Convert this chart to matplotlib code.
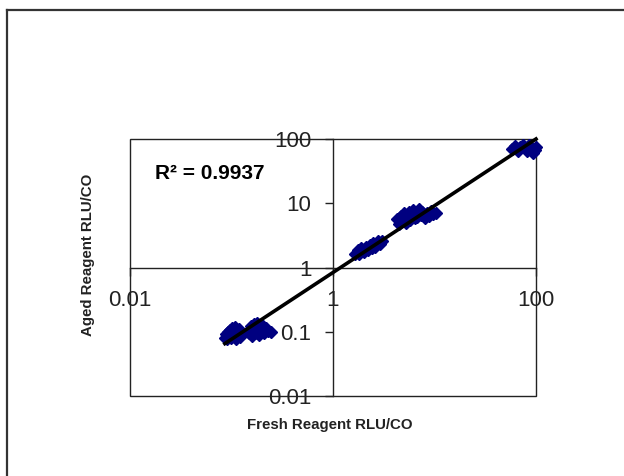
import numpy as np
import matplotlib.pyplot as plt
from matplotlib.lines import Line2D
from matplotlib.patches import Rectangle

plt.rcParams.update({"font.family": "Liberation Sans"})

# fresh vs aged reagent RLU/CO (four groups)
fresh1 = [0.086, 0.089, 0.091, 0.093, 0.095, 0.097, 0.099, 0.101, 0.103, 0.106, 0.108,
          0.111, 0.113, 0.116, 0.119, 0.122, 0.15, 0.155, 0.16, 0.165, 0.17, 0.175,
          0.18, 0.185, 0.19, 0.195, 0.2, 0.21, 0.22, 0.23, 0.245]
aged1 = [0.080, 0.092, 0.076, 0.098, 0.084, 0.108, 0.079, 0.115, 0.092, 0.086, 0.120,
         0.078, 0.102, 0.088, 0.110, 0.083, 0.097, 0.124, 0.087, 0.132, 0.094, 0.112,
         0.136, 0.090, 0.120, 0.100, 0.128, 0.095, 0.114, 0.102, 0.098]
fresh2 = [1.65, 1.75, 1.8, 1.9, 2.0, 2.1, 2.2, 2.3, 2.4, 2.5, 2.6, 2.75, 2.9, 3.05]
aged2 = [1.60, 1.90, 1.65, 2.00, 1.75, 2.10, 1.85, 2.20, 2.0, 2.40, 2.1, 2.55, 2.3, 2.6]
fresh3 = [4.3, 4.5, 4.7, 4.9, 5.0, 5.2, 5.4, 5.6, 5.8, 6.0, 6.2, 6.4, 6.6, 6.8, 7.0,
          7.3, 7.6, 8.0, 8.4, 8.8, 9.2, 9.7, 10.3]
aged3 = [5.6, 4.8, 6.4, 5.2, 7.0, 5.0, 6.0, 7.4, 5.4, 6.7, 7.8, 5.8, 7.2, 6.2, 8.0,
         6.5, 7.4, 6.0, 7.1, 6.4, 7.6, 6.8, 7.0]
fresh4 = [58, 62, 66, 70, 74, 78, 82, 86, 90, 94, 97, 100]
aged4 = [70, 78, 66, 76, 82, 72, 64, 80, 70, 60, 68, 74]

xticks = [0.01, 1, 100]
xticklabels = ["0.01", "1", "100"]
yticks = [0.01, 0.1, 1, 10, 100]
yticklabels = ["0.01", "0.1", "1", "10", "100"]

fresh = np.array(fresh1 + fresh2 + fresh3 + fresh4)
aged = np.array(aged1 + aged2 + aged3 + aged4)

# power trendline (fit in log space)
b, loga = np.polyfit(np.log10(fresh), np.log10(aged), 1)
xfit = np.array([fresh.min(), fresh.max()])
yfit = 10**loga * xfit**b

fig = plt.figure(figsize=(6.24, 4.76), dpi=100)
ax = fig.add_axes([130/624, 80/476, 406/624, 257/476])

ax.plot(fresh, aged, "D", color="#000080", ms=6.5, mec="#000080", zorder=3,
        clip_on=False)
ax.plot(xfit, yfit, color="black", lw=2.6, zorder=4, clip_on=False)

ax.set_xscale("log")
ax.set_yscale("log")
ax.set_xlim(0.01, 100)
ax.set_ylim(0.01, 100)
ax.minorticks_off()

ax.spines["left"].set_position(("data", 1))
ax.spines["bottom"].set_position(("data", 1))
for s in ["top", "right"]:
    ax.spines[s].set_visible(False)
for s in ["left", "bottom"]:
    ax.spines[s].set_color("#222222")
    ax.spines[s].set_linewidth(1)
ax.add_patch(Rectangle((0, 0), 1, 1, transform=ax.transAxes, fill=False,
                       ec="#222222", lw=1, clip_on=False, zorder=1))

ax.set_xticks(xticks)
ax.set_xticklabels(xticklabels)
ax.set_yticks(yticks)
ax.set_yticklabels(yticklabels)
ax.tick_params(direction="out", length=5.5, width=1, color="#222222",
               labelsize=16, labelcolor="#222222")
ax.tick_params(axis="x", pad=10.5)
ax.tick_params(axis="y", pad=10)

ax.text(0.062, 0.864, "R² = 0.9937", transform=ax.transAxes, fontsize=15,
        fontweight="bold", va="center", ha="left")

fig.text(88/624, (476-255)/476, "Aged Reagent RLU/CO", rotation=90, ha="center",
         va="center", fontsize=10.8, fontweight="bold", color="#222222")
fig.text(330/624, (476-425)/476, "Fresh Reagent RLU/CO", ha="center",
         va="center", fontsize=10.8, fontweight="bold", color="#222222")

# outer chart border (only the top and left edges fall inside the image)
fig.add_artist(Line2D([7/624, 7/624], [0, 466/476], color="#333333", lw=1.6))
fig.add_artist(Line2D([7/624, 1], [466/476, 466/476], color="#333333", lw=1.6))

fig.savefig("out.png", dpi=100)
